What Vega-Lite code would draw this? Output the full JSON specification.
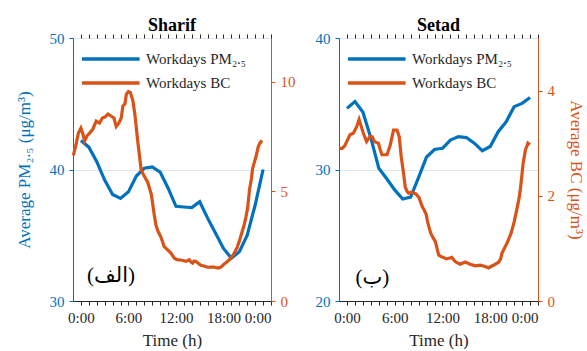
{
  "$schema": "https://vega.github.io/schema/vega-lite/v6.json",
  "padding": {"left": 14, "top": 16, "right": 0, "bottom": 0},
  "spacing": 18,
  "config": {
    "font": "Liberation Serif",
    "view": {"stroke": "#262626", "strokeWidth": 1},
    "axis": {"labelFont": "Liberation Serif", "titleFont": "Liberation Serif", "labelFontSize": 15, "titleFontSize": 17, "titleFontWeight": "normal", "tickSize": 4, "labelPadding": 5},
    "title": {"font": "Liberation Serif", "fontSize": 18, "fontWeight": "bold", "color": "#000000"},
    "legend": {"orient": "top-left", "title": null, "symbolType": "M-1,0H3.8", "symbolSize": 576, "symbolStrokeWidth": 3.5, "labelFont": "Liberation Serif", "labelFontSize": 15, "labelColor": "#262626", "offset": 7, "padding": 0, "rowPadding": 2, "labelOffset": 38, "labelLimit": 300}
  },
  "datasets": {
    "sharif_pm": [
      {"h": 0, "v": 42.2}, {"h": 1, "v": 41.7}, {"h": 2, "v": 40.6}, {"h": 3, "v": 39.2}, {"h": 4, "v": 38.1}, {"h": 5, "v": 37.8},
      {"h": 6, "v": 38.3}, {"h": 7, "v": 39.5}, {"h": 8, "v": 40.1}, {"h": 9, "v": 40.2}, {"h": 10, "v": 39.8}, {"h": 11, "v": 38.6},
      {"h": 12, "v": 37.2}, {"h": 13, "v": 37.15}, {"h": 14, "v": 37.1}, {"h": 15, "v": 37.55}, {"h": 16, "v": 36.3}, {"h": 17, "v": 35.15},
      {"h": 18, "v": 34.0}, {"h": 19, "v": 33.25}, {"h": 20, "v": 33.75}, {"h": 21, "v": 35.0}, {"h": 22, "v": 37.3}, {"h": 23, "v": 40.0}
    ],
    "setad_pm": [
      {"h": 0, "v": 34.65}, {"h": 1, "v": 35.16}, {"h": 2, "v": 34.37}, {"h": 3, "v": 32.4}, {"h": 4, "v": 30.1}, {"h": 5, "v": 29.3},
      {"h": 6, "v": 28.45}, {"h": 7, "v": 27.76}, {"h": 8, "v": 27.9}, {"h": 9, "v": 29.4}, {"h": 10, "v": 30.95}, {"h": 11, "v": 31.52},
      {"h": 12, "v": 31.61}, {"h": 13, "v": 32.24}, {"h": 14, "v": 32.5}, {"h": 15, "v": 32.43}, {"h": 16, "v": 32.0}, {"h": 17, "v": 31.43},
      {"h": 18, "v": 31.75}, {"h": 19, "v": 32.87}, {"h": 20, "v": 33.63}, {"h": 21, "v": 34.78}, {"h": 22, "v": 35.03}, {"h": 23, "v": 35.48}
    ],
    "sharif_bc": [
      {"h": -0.95, "v": 6.64}, {"h": -0.63, "v": 7.12}, {"h": -0.32, "v": 7.66}, {"h": 0, "v": 7.89}, {"h": 0.25, "v": 7.62}, {"h": 0.47, "v": 7.3},
      {"h": 0.76, "v": 7.53}, {"h": 1.1, "v": 7.66}, {"h": 1.52, "v": 7.85}, {"h": 1.93, "v": 8.21}, {"h": 2.34, "v": 8.12}, {"h": 2.71, "v": 8.35},
      {"h": 3.03, "v": 8.39}, {"h": 3.41, "v": 8.53}, {"h": 3.79, "v": 8.44}, {"h": 4.17, "v": 8.35}, {"h": 4.46, "v": 7.96}, {"h": 4.8, "v": 8.12},
      {"h": 5.09, "v": 8.35}, {"h": 5.3, "v": 8.9}, {"h": 5.56, "v": 8.99}, {"h": 5.74, "v": 9.44}, {"h": 6.0, "v": 9.56}, {"h": 6.25, "v": 9.51},
      {"h": 6.57, "v": 9.12}, {"h": 6.82, "v": 8.49}, {"h": 6.98, "v": 7.95}, {"h": 7.2, "v": 7.21}, {"h": 7.41, "v": 6.58}, {"h": 7.61, "v": 5.98},
      {"h": 7.92, "v": 5.75}, {"h": 8.2, "v": 5.57}, {"h": 8.42, "v": 5.43}, {"h": 8.65, "v": 5.16}, {"h": 8.9, "v": 4.84}, {"h": 9.05, "v": 4.47},
      {"h": 9.26, "v": 3.92}, {"h": 9.47, "v": 3.47}, {"h": 9.72, "v": 3.19}, {"h": 10.1, "v": 2.92}, {"h": 10.52, "v": 2.48}, {"h": 10.95, "v": 2.33},
      {"h": 11.36, "v": 2.19}, {"h": 11.78, "v": 1.96}, {"h": 12.12, "v": 1.89}, {"h": 12.41, "v": 1.88}, {"h": 12.88, "v": 1.85}, {"h": 13.26, "v": 1.81},
      {"h": 13.67, "v": 1.88}, {"h": 13.89, "v": 1.78}, {"h": 14.1, "v": 1.73}, {"h": 14.27, "v": 1.82}, {"h": 14.52, "v": 1.81}, {"h": 14.84, "v": 1.71},
      {"h": 15.15, "v": 1.63}, {"h": 15.53, "v": 1.6}, {"h": 16.0, "v": 1.54}, {"h": 16.41, "v": 1.55}, {"h": 16.83, "v": 1.55}, {"h": 17.17, "v": 1.51},
      {"h": 17.46, "v": 1.51}, {"h": 17.74, "v": 1.57}, {"h": 18.09, "v": 1.69}, {"h": 18.43, "v": 1.78}, {"h": 18.72, "v": 1.88}, {"h": 19.07, "v": 2.03},
      {"h": 19.36, "v": 2.19}, {"h": 19.7, "v": 2.42}, {"h": 19.99, "v": 2.72}, {"h": 20.27, "v": 3.06}, {"h": 20.62, "v": 3.48}, {"h": 20.83, "v": 3.83},
      {"h": 21.05, "v": 4.24}, {"h": 21.28, "v": 5.06}, {"h": 21.53, "v": 5.6}, {"h": 21.68, "v": 6.05}, {"h": 21.88, "v": 6.3}, {"h": 22.1, "v": 6.58},
      {"h": 22.39, "v": 7.04}, {"h": 22.6, "v": 7.21}, {"h": 22.73, "v": 7.27}, {"h": 22.92, "v": 7.23}
    ],
    "setad_bc": [
      {"h": -0.97, "v": 2.9}, {"h": -0.59, "v": 2.9}, {"h": -0.28, "v": 2.95}, {"h": -0.03, "v": 3.03}, {"h": 0.38, "v": 3.16}, {"h": 0.8, "v": 3.19},
      {"h": 1.21, "v": 3.31}, {"h": 1.52, "v": 3.45}, {"h": 1.81, "v": 3.31}, {"h": 2.06, "v": 3.19}, {"h": 2.47, "v": 3.03}, {"h": 2.9, "v": 3.13},
      {"h": 3.19, "v": 3.12}, {"h": 3.45, "v": 3.03}, {"h": 3.95, "v": 3.0}, {"h": 4.2, "v": 2.87}, {"h": 4.39, "v": 2.78}, {"h": 5.03, "v": 2.78},
      {"h": 5.43, "v": 2.96}, {"h": 5.85, "v": 3.25}, {"h": 6.29, "v": 3.25}, {"h": 6.57, "v": 3.12}, {"h": 6.82, "v": 2.74}, {"h": 7.11, "v": 2.43},
      {"h": 7.32, "v": 2.17}, {"h": 7.53, "v": 2.09}, {"h": 7.74, "v": 2.05}, {"h": 8.12, "v": 2.07}, {"h": 8.62, "v": 2.04}, {"h": 9.04, "v": 1.97},
      {"h": 9.47, "v": 1.79}, {"h": 9.7, "v": 1.73}, {"h": 9.95, "v": 1.65}, {"h": 10.11, "v": 1.52}, {"h": 10.33, "v": 1.39}, {"h": 10.52, "v": 1.29},
      {"h": 10.83, "v": 1.2}, {"h": 11.11, "v": 1.13}, {"h": 11.36, "v": 0.97}, {"h": 11.53, "v": 0.87}, {"h": 11.9, "v": 0.84}, {"h": 12.54, "v": 0.8},
      {"h": 13.17, "v": 0.83}, {"h": 13.59, "v": 0.75}, {"h": 14.22, "v": 0.7}, {"h": 14.85, "v": 0.74}, {"h": 15.48, "v": 0.7}, {"h": 16.11, "v": 0.67},
      {"h": 16.74, "v": 0.68}, {"h": 17.27, "v": 0.66}, {"h": 17.8, "v": 0.63}, {"h": 18.13, "v": 0.66}, {"h": 18.43, "v": 0.68}, {"h": 19.07, "v": 0.74},
      {"h": 19.3, "v": 0.8}, {"h": 19.48, "v": 0.91}, {"h": 19.8, "v": 1.01}, {"h": 20.11, "v": 1.1}, {"h": 20.62, "v": 1.29}, {"h": 21.0, "v": 1.5},
      {"h": 21.38, "v": 1.77}, {"h": 21.63, "v": 1.96}, {"h": 21.79, "v": 2.13}, {"h": 21.97, "v": 2.38}, {"h": 22.13, "v": 2.62}, {"h": 22.32, "v": 2.78},
      {"h": 22.42, "v": 2.87}, {"h": 22.73, "v": 3.0}, {"h": 22.98, "v": 2.97}
    ]
  },
  "resolve": {"scale": {"color": "independent"}},
  "hconcat": [
    {
      "title": {"text": "Sharif", "offset": -4},
      "width": 198,
      "height": 263,
      "resolve": {"scale": {"y": "independent"}, "axis": {"x": "independent"}},
      "layer": [
        {
          "layer": [
            {
              "data": {"name": "sharif_pm"},
              "mark": {"type": "line", "strokeWidth": 3.2},
              "encoding": {
                "x": {"field": "h", "type": "quantitative", "scale": {"domain": [-1, 24], "nice": false, "zero": false},
                  "axis": {"orient": "bottom", "title": "Time (h)", "values": [0,1,2,3,4,5,6,7,8,9,10,11,12,13,14,15,16,17,18,19,20,21,22,23,24], "labelExpr": "datum.value % 6 == 0 ? (datum.value % 24) + ':00' : ''", "labelOverlap": false, "grid": false, "domainColor": "#262626", "tickColor": "#262626", "labelColor": "#262626", "titleColor": "#262626", "titlePadding": 7}},
                "y": {"field": "v", "type": "quantitative", "scale": {"domain": [30, 50], "nice": false, "zero": false},
                  "axis": {"orient": "left", "values": [30, 40, 50], "title": "Average PM₂.₅ (μg/m³)", "titleColor": "#0072BD", "labelColor": "#0072BD", "domainColor": "#0072BD", "tickColor": "#0072BD", "grid": true, "gridColor": "#dde5ee", "titlePadding": 16}},
                "color": {"datum": "Workdays PM₂.₅", "type": "nominal", "scale": {"domain": ["Workdays PM₂.₅", "Workdays BC"], "range": ["#0072BD", "#D95319"]}}
              }
            },
            {
              "data": {"values": [{"h": 3.8, "v": 31.9, "t": "(الف)"}]},
              "mark": {"type": "text", "fontSize": 21, "font": "'Liberation Serif', 'DejaVu Sans'", "color": "#000000"},
              "encoding": {
                "x": {"field": "h", "type": "quantitative",
                  "axis": {"orient": "bottom", "title": "Time (h)", "values": [0,1,2,3,4,5,6,7,8,9,10,11,12,13,14,15,16,17,18,19,20,21,22,23,24], "labelExpr": "datum.value % 6 == 0 ? (datum.value % 24) + ':00' : ''", "labelOverlap": false, "grid": false, "domainColor": "#262626", "tickColor": "#262626", "labelColor": "#262626", "titleColor": "#262626", "titlePadding": 7}},
                "y": {"field": "v", "type": "quantitative"},
                "text": {"field": "t"}
              }
            }
          ]
        },
        {
          "data": {"name": "sharif_bc"},
          "mark": {"type": "line", "strokeWidth": 3.2},
          "encoding": {
            "x": {"field": "h", "type": "quantitative", "axis": {"orient": "top", "labels": false, "title": null, "domain": false, "grid": false, "tickColor": "#262626", "values": [0,1,2,3,4,5,6,7,8,9,10,11,12,13,14,15,16,17,18,19,20,21,22,23,24]}},
            "y": {"field": "v", "type": "quantitative", "scale": {"domain": [0, 12], "nice": false},
              "axis": {"orient": "right", "values": [0, 5, 10], "title": null, "labelColor": "#D95319", "domainColor": "#D95319", "tickColor": "#D95319", "grid": false}},
            "color": {"datum": "Workdays BC", "type": "nominal"}
          }
        }
      ]
    },
    {
      "title": {"text": "Setad", "offset": -4},
      "width": 199,
      "height": 263,
      "resolve": {"scale": {"y": "independent"}, "axis": {"x": "independent"}},
      "layer": [
        {
          "layer": [
            {
              "data": {"name": "setad_pm"},
              "mark": {"type": "line", "strokeWidth": 3.2},
              "encoding": {
                "x": {"field": "h", "type": "quantitative", "scale": {"domain": [-1, 24], "nice": false, "zero": false},
                  "axis": {"orient": "bottom", "title": "Time (h)", "values": [0,1,2,3,4,5,6,7,8,9,10,11,12,13,14,15,16,17,18,19,20,21,22,23,24], "labelExpr": "datum.value % 6 == 0 ? (datum.value % 24) + ':00' : ''", "labelOverlap": false, "grid": false, "domainColor": "#262626", "tickColor": "#262626", "labelColor": "#262626", "titleColor": "#262626", "titlePadding": 7}},
                "y": {"field": "v", "type": "quantitative", "scale": {"domain": [20, 40], "nice": false, "zero": false},
                  "axis": {"orient": "left", "values": [20, 30, 40], "title": null, "labelColor": "#0072BD", "domainColor": "#0072BD", "tickColor": "#0072BD", "grid": true, "gridColor": "#dde5ee"}},
                "color": {"datum": "Workdays PM₂.₅", "type": "nominal", "scale": {"domain": ["Workdays PM₂.₅", "Workdays BC"], "range": ["#0072BD", "#D95319"]}}
              }
            },
            {
              "data": {"values": [{"h": 3.2, "v": 21.75, "t": "(ب)"}]},
              "mark": {"type": "text", "fontSize": 21, "font": "'Liberation Serif', 'DejaVu Sans'", "color": "#000000"},
              "encoding": {
                "x": {"field": "h", "type": "quantitative",
                  "axis": {"orient": "bottom", "title": "Time (h)", "values": [0,1,2,3,4,5,6,7,8,9,10,11,12,13,14,15,16,17,18,19,20,21,22,23,24], "labelExpr": "datum.value % 6 == 0 ? (datum.value % 24) + ':00' : ''", "labelOverlap": false, "grid": false, "domainColor": "#262626", "tickColor": "#262626", "labelColor": "#262626", "titleColor": "#262626", "titlePadding": 7}},
                "y": {"field": "v", "type": "quantitative"},
                "text": {"field": "t"}
              }
            }
          ]
        },
        {
          "data": {"name": "setad_bc"},
          "mark": {"type": "line", "strokeWidth": 3.2},
          "encoding": {
            "x": {"field": "h", "type": "quantitative", "axis": {"orient": "top", "labels": false, "title": null, "domain": false, "grid": false, "tickColor": "#262626", "values": [0,1,2,3,4,5,6,7,8,9,10,11,12,13,14,15,16,17,18,19,20,21,22,23,24]}},
            "y": {"field": "v", "type": "quantitative", "scale": {"domain": [0, 5], "nice": false},
              "axis": {"orient": "right", "values": [0, 2, 4], "title": "Average BC (μg/m³)", "titleColor": "#D95319", "labelColor": "#D95319", "domainColor": "#D95319", "tickColor": "#D95319", "grid": false, "titlePadding": 12}},
            "color": {"datum": "Workdays BC", "type": "nominal"}
          }
        }
      ]
    }
  ]
}
